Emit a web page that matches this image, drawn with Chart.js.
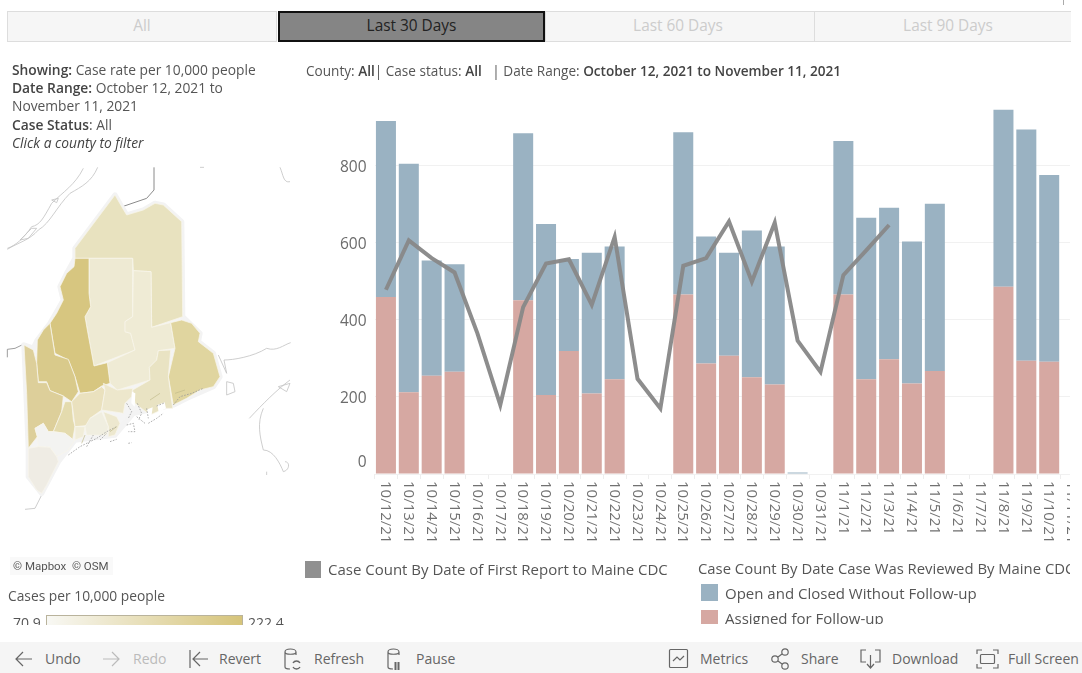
<!DOCTYPE html>
<html><head><meta charset="utf-8">
<script src="https://cdn.jsdelivr.net/npm/chart.js@4"></script>
<style>
html,body{margin:0;padding:0;background:#fff;width:1082px;height:673px;overflow:hidden;font-family:"Open Sans",sans-serif;color:#555}
#page{position:absolute;left:0;top:0;width:1082px;height:673px;filter:blur(0.35px)}
.a{position:absolute;white-space:nowrap}
b{font-weight:600;color:#444}
.tab{position:absolute;top:11px;height:31px;line-height:27px;text-align:center;font-size:15.4px;color:#ccc;background:#f6f6f6;border:1px solid #ddd;box-sizing:border-box}
.tb{position:absolute;top:650px;font-size:14px;color:#666;line-height:18px}
svg{position:absolute;overflow:visible}
</style></head><body><div id="page">
<div class="a" style="left:1063px;top:0;width:1px;height:5px;background:#aaa"></div>
<div class="a" style="left:0;top:0;width:1071px;height:45px;overflow:hidden">
<div class="tab" style="left:7px;width:270px">All</div>
<div class="tab" style="left:278px;width:267px;background:#858585;border:2px solid #111;color:#222;line-height:25px">Last 30 Days</div>
<div class="tab" style="left:545px;width:270px;padding-right:4px">Last 60 Days</div>
<div class="tab" style="left:814px;width:268px">Last 90 Days</div>
</div>

<div class="a" style="left:12px;top:61px;font-size:13.8px;line-height:18.2px;color:#555">
<b>Showing:</b> Case rate per 10,000 people<br><b>Date Range:</b> October 12, 2021 to<br>November 11, 2021<br><b>Case Status</b>: All<br><i style="color:#444">Click a county to filter</i></div>
<div class="a" style="left:306px;top:62px;font-size:13.6px;line-height:18px">County: <b>All</b>| Case status: <b>All</b> &nbsp; | Date Range: <b>October 12, 2021 to November 11, 2021</b></div>

<svg style="left:0;top:160px" width="300" height="350" viewBox="0 0 900 1050">
<g fill="none" stroke="#c4c4c4" stroke-width="2.5">
<path d="M22,265 C50,255 70,235 95,200 C120,195 130,175 155,130 C190,95 225,75 250,25"/>
<path d="M22,268 C50,250 90,240 115,210 C150,190 170,140 210,100 C245,80 275,65 293,22"/>
<path d="M155,120 L175,115 L170,128 Z"/>
<path d="M60,240 L95,205 L110,205 L85,235 Z"/>
<path d="M840,22 C850,45 850,70 870,65"/>
<path d="M655,585 L680,640 L672,600 C700,600 760,590 800,565 C830,575 850,555 872,548"/>
<path d="M680,665 L700,670 L705,695 L680,705 Z"/>
<path d="M748,775 C790,730 830,690 870,660 M790,745 C770,790 780,830 790,870 C820,870 840,910 850,935 C870,930 870,905 855,905"/>
<path d="M835,680 L870,670 L860,695 Z"/>
<path d="M125,1005 L105,1045 L75,1048"/>
<path d="M600,22H612M800,935V945"/>
</g>
<path d="M462,22 V90 L440,115 L367,140" fill="none" stroke="#8a8a8a" stroke-width="3"/>
<path d="M22,592 V568 L45,565 L72,552" fill="none" stroke="#8a8a8a" stroke-width="2.5"/>
<path d="M225,295V265L345,105L365,140L380,165L430,150L465,130L490,135L545,185L548,470L600,520L595,545L640,580L660,650L640,680L560,715L520,735L400,760L345,825L225,840L175,905L125,1000L85,950L85,865L72,555L100,565L112,540L150,490L190,420L180,380L200,340Z" fill="#f4f4f4" stroke="#f3f3f3" stroke-width="16" stroke-linejoin="round"/>
<g stroke="#f8f6ea" stroke-width="2.2" stroke-linejoin="round">
<path fill="#E8E2BF" d="M225,295V265L345,105L365,140L380,165L430,150L465,130L490,135L545,185L548,470L455,502L453,335L400,332L398,295Z"/>
<path fill="#EEEAD3" d="M267,295H398V470L375,485V515L392,520L405,570L282,618L262,510L255,470L272,440L267,400Z"/>
<path fill="#EFEBD5" d="M400,332L453,335L455,502L512,488L525,565L475,572L470,600L448,622L450,660L352,690L330,670L322,608L405,570L392,520L375,515V485L398,470Z"/>
<path fill="#E0D59F" d="M512,488L545,480L575,490L600,520L595,545L640,580L660,650L640,680L600,690L560,715L520,735L505,650L525,565Z"/>
<path fill="#E9E3C3" d="M448,622L470,600L475,572L512,570L505,650L518,745L495,745L450,765L405,730L398,690L450,660Z"/>
<path fill="#D7C680" d="M225,295H267V400L272,440L255,470L262,510L282,618L322,608L330,670L305,678L280,695L240,700L225,650L205,600L165,580L150,490L170,460L190,420L180,380L200,340L222,320Z"/>
<path fill="#D9CA8B" d="M150,490L165,585L205,598L225,650L235,695L215,725L190,708L150,692L140,665H115L110,610L112,540L130,510Z"/>
<path fill="#DDCF9A" d="M72,555L100,570L110,610L115,668H140L150,692L190,708L185,755L160,815H145L130,790L105,805L112,830L85,865L80,700Z"/>
<path fill="#E4DBAE" d="M195,725H215L220,780L225,800L218,838L195,820L160,815L185,755Z"/>
<path fill="#EAE1BE" d="M240,700L280,695L305,680L315,690L305,750L270,775L275,795L225,800L218,745L215,725Z"/>
<path fill="#EDE7CC" d="M310,670L352,690L398,685L395,710L375,730L370,760L340,755L305,750L315,690Z"/>
<path fill="#EDE8CF" d="M310,755L350,770L360,790L345,825L325,830L325,800Z"/>
<path fill="#F0EEE0" d="M270,775L305,755L325,800L320,825L260,825L255,800Z"/>
<path fill="#F1EDD9" d="M225,800H255L250,830L225,840Z"/>
<path fill="#F3F3F1" d="M105,805L130,790L145,815H160L195,820L218,838L225,838L205,870L170,890L150,862L115,860L112,830Z"/>
<path fill="#EFECE4" d="M85,865L115,860L150,862L170,890L175,905L140,975L125,1000L110,990L85,950Z"/>
</g>
<g fill="#fff">
<path d="M396,695L406,700L404,740L394,730Z"/>
<path d="M472,735L494,727L498,745L476,757Z"/>
<path d="M442,748L458,742L454,772L440,768Z"/>
</g>
<g fill="none" stroke="#9c9c9c" stroke-width="2.4" stroke-dasharray="5 4">
<path d="M380,730L395,755L385,775M412,730L425,760L415,780M445,790L470,775L490,760M520,735L540,710L575,700L610,685M440,745L445,775M470,738L495,728"/>
<path d="M205,885L240,860L290,835L320,815L350,800M260,860L280,825M300,840L320,820"/>
<path d="M380,795L400,790L405,815L385,815M410,770L435,790M330,845L350,838M385,850L395,848"/>
</g>
<g fill="none" stroke="#bfb989" stroke-width="2">
<path d="M450,720L480,700M525,700L555,690M245,850L255,825M330,815L350,800"/>
</g>
</svg>
<div class="a" style="left:10px;top:557px;width:103px;height:18px;background:rgba(248,248,248,.85);font:11.5px/19px Roboto,sans-serif;color:#555;padding-left:3px;box-sizing:border-box">© Mapbox &nbsp;© OSM</div>
<div class="a" style="left:8px;top:586px;font-size:13.8px;line-height:19px">Cases per 10,000 people</div>
<div class="a" style="left:0;top:600px;width:300px;height:25px;overflow:hidden">
<div class="a" style="left:13px;top:13px;font-size:14px;line-height:19px">70.9</div>
<div class="a" style="left:46px;top:15px;width:197px;height:20px;box-sizing:border-box;border:1px solid #b9b39c;background:linear-gradient(90deg,#f8f8f4,#D6C47A)"></div>
<div class="a" style="left:248px;top:13px;font-size:14px;line-height:19px">222.4</div>
</div>

<div style="position:absolute;left:300px;top:80px;width:770px;height:480px;overflow:hidden">
<canvas id="c" width="800" height="480" style="position:absolute;left:0;top:0;width:800px;height:480px"></canvas></div>

<div class="a" style="left:305px;top:561px;width:16px;height:17px;background:#909090"></div>
<div class="a" style="left:328px;top:559px;font-size:15px;line-height:20px">Case Count By Date of First Report to Maine CDC</div>
<div class="a" style="left:0;top:550px;width:1070px;height:74px;overflow:hidden;pointer-events:none">
<div class="a" style="left:698px;top:8px;font-size:14.85px;line-height:20px">Case Count By Date Case Was Reviewed By Maine CDC</div>
<div class="a" style="left:701px;top:34px;width:17px;height:17px;background:#9AB2C2"></div>
<div class="a" style="left:725px;top:33px;font-size:15px;line-height:20px">Open and Closed Without Follow-up</div>
<div class="a" style="left:701px;top:60px;width:17px;height:17px;background:#D6A8A2"></div>
<div class="a" style="left:725px;top:58px;font-size:15px;line-height:20px">Assigned for Follow-up</div>
</div>

<div class="a" style="left:0;top:642px;width:1082px;height:31px;background:#f5f5f5"></div>
<svg style="left:0;top:643px" width="1082" height="30" fill="none" stroke="#666" stroke-width="1.2">
<path d="M32,16H16M23,9L16,16L23,23"/>
<path stroke="#bbb" d="M103,16H119M112,9L119,16L112,23"/>
<path d="M190,7V25M208,16H193M200,9L193,16L200,23"/>
<path d="M296,12V9C296,5 285,5 285,9V24C285,26 288,26 290,26M285,9C285,12 296,12 296,9" /><path d="M293,20a4,4 0 0 1 7,0M300,24a4,4 0 0 1 -7,0" stroke-width="1.4"/>
<path d="M399,12V9C399,5 388,5 388,9V24C388,26 391,26 393,26M388,9C388,12 399,12 399,9"/><path d="M395.5,19V27M398.5,19V27" stroke-width="2"/>
<rect x="669.5" y="6.5" width="18" height="18" rx="1"/><path d="M673,18L677,14L680,17L684,13"/>
<circle cx="775" cy="16" r="3.2"/><circle cx="785" cy="9" r="3.2"/><circle cx="785" cy="23" r="3.2"/><path d="M778,14L782,11M778,18L782,21"/>
<path d="M866,7H861V19H866M875,7H880V19H875M870.5,12V24M867,21L870.5,25L874,21"/>
<path d="M977,11V7H982M993,7H998V11M977,21V25H982M993,25H998V21"/><rect x="980.5" y="11.5" width="14" height="9" rx="1"/>
</svg>
<div class="tb" style="left:45px">Undo</div>
<div class="tb" style="left:133px;color:#bbb">Redo</div>
<div class="tb" style="left:219px">Revert</div>
<div class="tb" style="left:314px">Refresh</div>
<div class="tb" style="left:416px">Pause</div>
<div class="tb" style="left:700px">Metrics</div>
<div class="tb" style="left:801px">Share</div>
<div class="tb" style="left:892px">Download</div>
<div class="tb" style="left:1008px">Full Screen</div>
</div>
<script>
const dates = ["10/12/21","10/13/21","10/14/21","10/15/21","10/16/21","10/17/21","10/18/21","10/19/21","10/20/21","10/21/21","10/22/21","10/23/21","10/24/21","10/25/21","10/26/21","10/27/21","10/28/21","10/29/21","10/30/21","10/31/21","11/1/21","11/2/21","11/3/21","11/4/21","11/5/21","11/6/21","11/7/21","11/8/21","11/9/21","11/10/21","11/11/21"];
const assigned = [459,212,255,265,null,null,451,205,319,209,246,null,null,466,287,307,251,232,0,null,466,246,298,235,267,null,null,486,294,291,null];
const openClosed = [457,593,299,279,null,null,433,444,239,365,344,null,null,421,329,267,381,358,4,null,398,419,393,368,434,null,null,459,600,485,null];
const firstReport = [478,606,560,523,365,179,433,546,557,439,615,247,170,540,560,655,499,652,346,265,516,580,646,null,null,null,null,null,null,null,null];
const yTicks = [0,200,400,600,800];

const fixLabels = {
  id:'fixLabels',
  beforeDraw(chart){
    const xs = chart.scales.x, ys = chart.scales.y;
    xs.getLabelItems().forEach((it,i)=>{
      it.options.rotation = Math.PI/2;
      it.options.textAlign = 'left';
      it.options.textBaseline = 'middle';
      it.textOffset = 0;
      it.options.translation[0] = xs.getPixelForTick(i) - 0.5;
      it.options.translation[1] = xs.top + 7;
    });
    ys.getLabelItems().forEach(it=>{
      if (it.label === '0') it.options.translation[1] = ys.getPixelForValue(0) - 11;
      else it.options.translation[1] = ys.getPixelForValue(+it.label) + 1.5;
    });
  }
};

new Chart(document.getElementById('c'), {
  data:{
    labels:dates,
    datasets:[
      {type:'line',label:'Case Count By Date of First Report to Maine CDC',data:firstReport,borderColor:'rgba(136,136,136,0.96)',borderWidth:4,pointRadius:0,tension:0,borderJoinStyle:'miter',borderCapStyle:'butt',order:0},
      {type:'bar',label:'Assigned for Follow-up',data:assigned,backgroundColor:'#D6A8A2',barPercentage:0.875,categoryPercentage:1,order:1},
      {type:'bar',label:'Open and Closed Without Follow-up',data:openClosed,backgroundColor:'#9AB2C2',barPercentage:0.875,categoryPercentage:1,order:2}
    ]
  },
  options:{
    responsive:false,animation:false,
    layout:{padding:{top:8.6,right:16.5,left:0,bottom:0}},
    plugins:{legend:{display:false},tooltip:{enabled:false}},
    scales:{
      x:{stacked:true,offset:true,
        afterFit(s){s.height=86;s.paddingLeft=0;s.paddingRight=0;},
        grid:{drawOnChartArea:false,drawTicks:true,tickLength:5,color:'#eeeeee'},border:{display:false},
        ticks:{autoSkip:false,minRotation:90,maxRotation:90,padding:2,color:'#717171',font:{family:'"Open Sans"',size:15}}},
      y:{stacked:true,min:0,max:1000,
        afterFit(s){s.width=74.5;s.paddingTop=0;s.paddingBottom=0;},
        afterBuildTicks(s){s.ticks=yTicks.map(v=>({value:v}));},
        grid:{color:'#f1f1f1',drawTicks:false},border:{display:false},
        ticks:{padding:8,color:'#6b6b6b',font:{family:'"Open Sans"',size:15.5}}}
    }
  },
  plugins:[fixLabels]
});
</script>
</body></html>
